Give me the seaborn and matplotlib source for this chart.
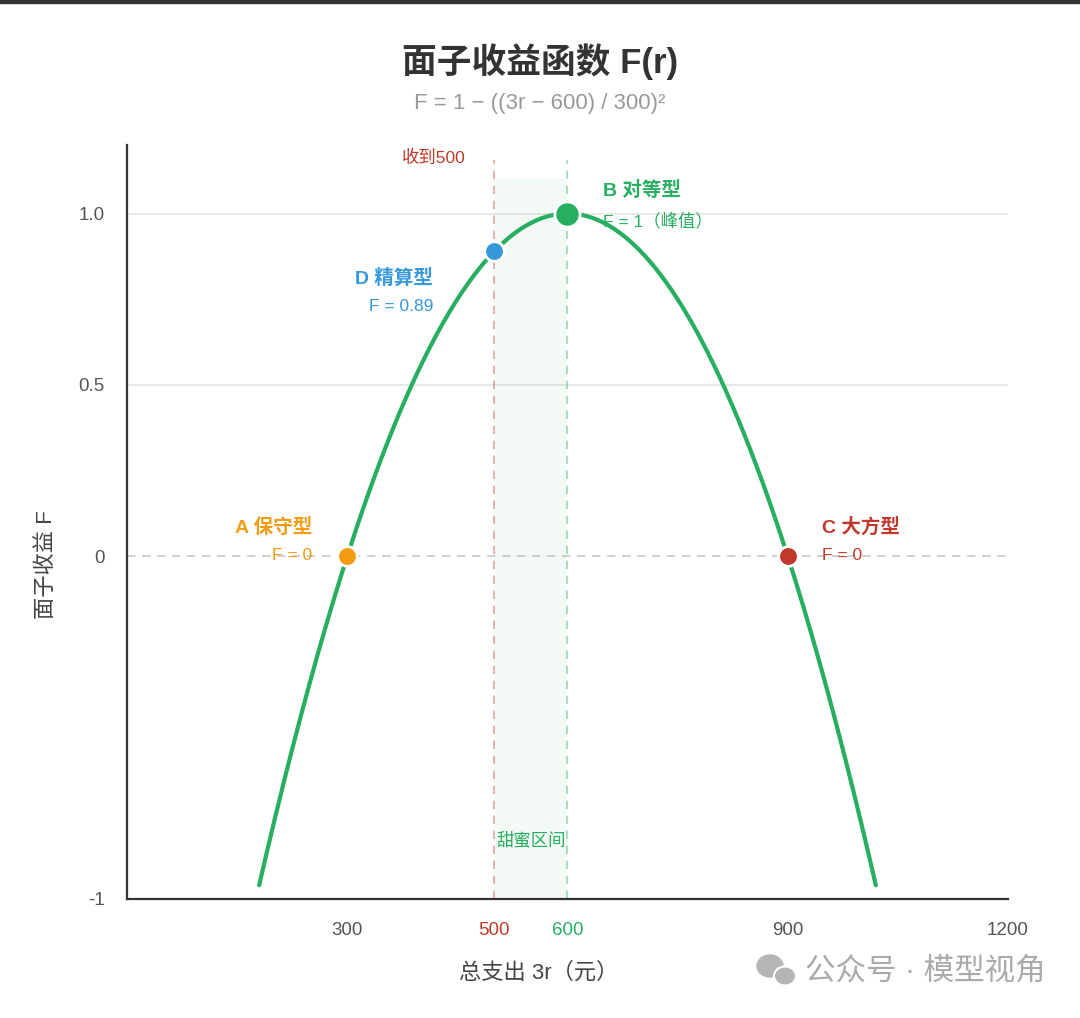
import numpy as np
import pandas as pd
import matplotlib
matplotlib.use("Agg")
import matplotlib.pyplot as plt
from matplotlib.patches import Ellipse
import seaborn as sns

# ---- data ----
types = ["A 保守型", "B 对等型", "C 大方型", "D 精算型"]
spend = [300, 600, 900, 500]
face = [0.0, 1.0, 0.0, 0.89]
value_labels = ["F = 0", "F = 1（峰值）", "F = 0", "F = 0.89"]
colors = ["#f39c12", "#27ae60", "#c0392b", "#3498db"]
curve_range = [180, 1020]          # visible span of the curve
peak_spend, half_width = 600, 300  # from F = 1 − ((3r − 600)/300)²
xticks = [300, 500, 600, 900, 1200]
xtick_colors = ["#555555", "#c0392b", "#27ae60", "#555555", "#555555"]
yticks = [-1, 0, 0.5, 1.0]
ytick_labels = ["-1", "0", "0.5", "1.0"]
received = 500
sweet_zone = [500, 600]

sns.set_style("white")
plt.rcParams["font.family"] = ["Liberation Sans", "Noto Sans CJK SC", "DejaVu Sans"]
plt.rcParams["axes.unicode_minus"] = False

fig = plt.figure(figsize=(10.8, 10.18), dpi=100)
ax = fig.add_axes([0.1176, 0.1169, 0.8157, 0.7407])

xs = np.linspace(curve_range[0], curve_range[1], 300)
curve = pd.DataFrame({"x": xs, "F": 1 - ((xs - peak_spend) / half_width) ** 2})

ax.set_xlim(0, 1200)
ax.set_ylim(-1, 1.2)

# grid lines
for yv in [0.5, 1.0]:
    ax.axhline(yv, color="#e3e3e3", lw=1.2, zorder=0)
ax.axhline(0, color="#c8c8c8", lw=1.2, ls=(0, (5, 4)), zorder=0)

# sweet zone
ax.fill_between(sweet_zone, -1, 1.1, color="#27ae60", alpha=0.05, lw=0, zorder=0)
ax.plot([received, received], [-1, 1.155], color="#c0392b", alpha=0.45, lw=1.2,
        ls=(0, (5, 4)), zorder=1)
ax.plot([sweet_zone[1], sweet_zone[1]], [-1, 1.155], color="#27ae60", alpha=0.45,
        lw=1.2, ls=(0, (5, 4)), zorder=1)
ax.text(418, 1.163, "收到500", color="#c0392b", fontsize=12.5, ha="center", va="center")
ax.text(550, -0.828, "甜蜜区间", color="#27ae60", fontsize=12.5, ha="center", va="center")

sns.lineplot(data=curve, x="x", y="F", color="#27ae60", lw=3.0, ax=ax, zorder=3)

pts = pd.DataFrame({"spend": spend, "F": face, "type": types})
sizes = [200, 330, 200, 200]
for i in range(len(types)):
    sns.scatterplot(data=pts.iloc[[i]], x="spend", y="F", color=colors[i], s=sizes[i],
                    edgecolor="white", linewidth=2, ax=ax, zorder=5, legend=False)

# annotations
ann = [
    (252, "right"),  # A
    (649, "left"),   # B
    (947, "left"),   # C
    (417, "right"),  # D
]
name_y = [0.085, 1.067, 0.085, 0.81]
val_y = [0.003, 0.977, 0.003, 0.73]
for i in range(len(types)):
    xpos, ha = ann[i]
    ax.text(xpos, name_y[i], types[i], color=colors[i], fontsize=14, fontweight="bold",
            ha=ha, va="center", zorder=6)
    ax.text(xpos, val_y[i], value_labels[i], color=colors[i], fontsize=12.5,
            ha=ha, va="center", zorder=6)

# axes styling
for s in ["top", "right"]:
    ax.spines[s].set_visible(False)
for s in ["left", "bottom"]:
    ax.spines[s].set_color("#333333")
    ax.spines[s].set_linewidth(1.6)

ax.set_xticks(xticks)
ax.set_xticklabels([str(v) for v in xticks], fontsize=13.5)
for lab, c in zip(ax.get_xticklabels(), xtick_colors):
    lab.set_color(c)
ax.tick_params(axis="x", direction="inout", length=9, width=1.2, color="#333333", pad=12)

ax.set_yticks(yticks)
ax.set_yticklabels(ytick_labels, fontsize=13.5, color="#555555")
ax.tick_params(axis="y", direction="out", length=8, width=1.2, color="#dddddd", pad=8)

ax.set_xlabel("总支出 3r（元）", fontsize=16, color="#444444")
ax.xaxis.set_label_coords(0.467, -0.0836)
ax.set_ylabel("面子收益 F", fontsize=16, color="#444444")
ax.yaxis.set_label_coords(-0.079, 0.443)

# titles
fig.text(0.5, 0.939, "面子收益函数 F(r)", fontsize=25, fontweight="bold", color="#333333",
         ha="center", va="center")
fig.text(0.5, 0.898, "F = 1 − ((3r − 600) / 300)²", fontsize=16, color="#999999",
         ha="center", va="center")

# top dark bar
fig.patches.append(plt.Rectangle((0, 0.997), 1, 0.003, transform=fig.transFigure,
                                 color="#333333", zorder=10))
# watermark (icon + text)
fig.patches.append(Ellipse((770 / 1080, 1 - 966 / 1018), 26 / 1080, 22 / 1018,
                           transform=fig.transFigure, color="#b5b5b5", zorder=10))
fig.patches.append(Ellipse((785 / 1080, 1 - 976 / 1018), 22 / 1080, 19 / 1018,
                           transform=fig.transFigure, facecolor="#b5b5b5",
                           edgecolor="white", lw=1.5, zorder=11))
fig.text(0.968, 1 - 972 / 1018, "公众号 · 模型视角", fontsize=22, color="#aaaaaa",
         ha="right", va="center")

fig.savefig("out.png", dpi=100)
